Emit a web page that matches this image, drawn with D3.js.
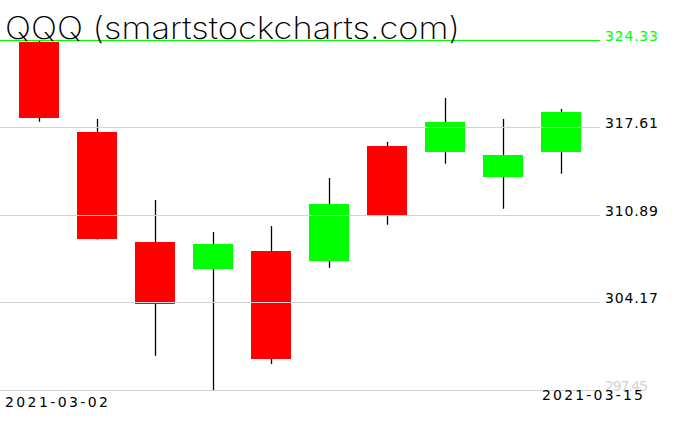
<!DOCTYPE html>
<html>
<head>
<meta charset="utf-8">
<script src="https://cdn.jsdelivr.net/npm/d3@7/dist/d3.min.js"></script>
<style>
  html, body { margin: 0; padding: 0; background: #fff; }
  svg { display: block; }
</style>
</head>
<body>
<svg id="chart" width="676" height="431"></svg>
<script>
const dates  = ['2021-03-02','2021-03-03','2021-03-04','2021-03-05','2021-03-08','2021-03-09','2021-03-10','2021-03-11','2021-03-12','2021-03-15'];
const opens  = [324.25, 317.30, 308.85, 306.77, 308.16, 307.39, 316.23, 315.79, 313.85, 315.79];
const highs  = [324.33, 318.30, 312.08, 309.62, 310.08, 313.77, 316.54, 319.92, 318.30, 319.07];
const lows   = [318.09, 309.05, 300.11, 297.45, 299.49, 306.87, 310.18, 314.87, 311.41, 314.10];
const closes = [318.38, 309.08, 304.08, 308.69, 299.86, 311.77, 310.92, 318.07, 315.54, 318.84];
const priceTicks = [324.33, 317.61, 310.89, 304.17, 297.45];
const dateLabels = ['2021-03-02', '2021-03-15'];
const title = 'QQQ (smartstockcharts.com)';

const svg = d3.select('#chart');
const x = d3.scaleBand().domain(dates).range([0, 600]).paddingInner(0.31).paddingOuter(0.325);
const y = d3.scaleLinear().domain([297.45, 324.33]).range([390.5, 40.5]);

const data = dates.map((d, i) => ({date: d, o: opens[i], h: highs[i], l: lows[i], c: closes[i]}));

// wicks
svg.append('g').selectAll('line').data(data).join('line')
  .attr('x1', d => Math.round(x(d.date) + x.bandwidth() / 2) + 0.5)
  .attr('x2', d => Math.round(x(d.date) + x.bandwidth() / 2) + 0.5)
  .attr('y1', d => y(d.h))
  .attr('y2', d => y(d.l))
  .attr('stroke', '#000')
  .attr('stroke-width', 1.3);

// bodies
svg.append('g').selectAll('rect').data(data).join('rect')
  .attr('x', d => Math.round(x(d.date)))
  .attr('width', Math.round(x.bandwidth()))
  .attr('y', d => Math.round(y(Math.max(d.o, d.c))))
  .attr('height', d => Math.max(1, Math.round(y(Math.min(d.o, d.c))) - Math.round(y(Math.max(d.o, d.c)))))
  .attr('fill', d => d.c >= d.o ? '#00ff00' : '#ff0000');

// gridlines (drawn over candles)
const grid = svg.append('g').attr('shape-rendering', 'crispEdges');
grid.selectAll('line').data(priceTicks).join('line')
  .attr('x1', 0).attr('x2', 600)
  .attr('y1', d => Math.floor(y(d)) + 0.5)
  .attr('y2', d => Math.floor(y(d)) + 0.5)
  .attr('stroke', (d, i) => i === 0 ? '#00ff00' : '#d3d3d3')
  .attr('stroke-width', 1);

// price labels
svg.append('g').selectAll('text').data(priceTicks).join('text')
  .attr('x', 605)
  .attr('y', d => Math.floor(y(d)) + 0.5)
  .attr('font-family', 'DejaVu Sans, sans-serif')
  .attr('font-size', 14)
  .attr('textLength', (d, i) => i === priceTicks.length - 1 ? 43 : 53)
  .attr('lengthAdjust', 'spacing')
  .attr('fill', (d, i) => i === 0 ? '#00ff00' : (i === priceTicks.length - 1 ? '#d3d3d3' : '#000'))
  .text(d => d.toFixed(2));

// date labels
svg.append('text')
  .attr('x', 5).attr('y', 407)
  .attr('font-family', 'DejaVu Sans, sans-serif')
  .attr('font-size', 14)
  .attr('textLength', 103).attr('lengthAdjust', 'spacing')
  .attr('fill', '#000')
  .text(dateLabels[0]);
svg.append('text')
  .attr('x', 542).attr('y', 400)
  .attr('font-family', 'DejaVu Sans, sans-serif')
  .attr('font-size', 14)
  .attr('textLength', 101).attr('lengthAdjust', 'spacing')
  .attr('fill', '#000')
  .text(dateLabels[1]);

// title
svg.append('text')
  .attr('x', 5).attr('y', 38.5)
  .attr('font-family', 'Inter, sans-serif')
  .attr('font-weight', 200)
  .attr('font-size', 31)
  .attr('textLength', 455).attr('lengthAdjust', 'spacingAndGlyphs')
  .attr('fill', '#000')
  .text(title);
</script>
</body>
</html>
